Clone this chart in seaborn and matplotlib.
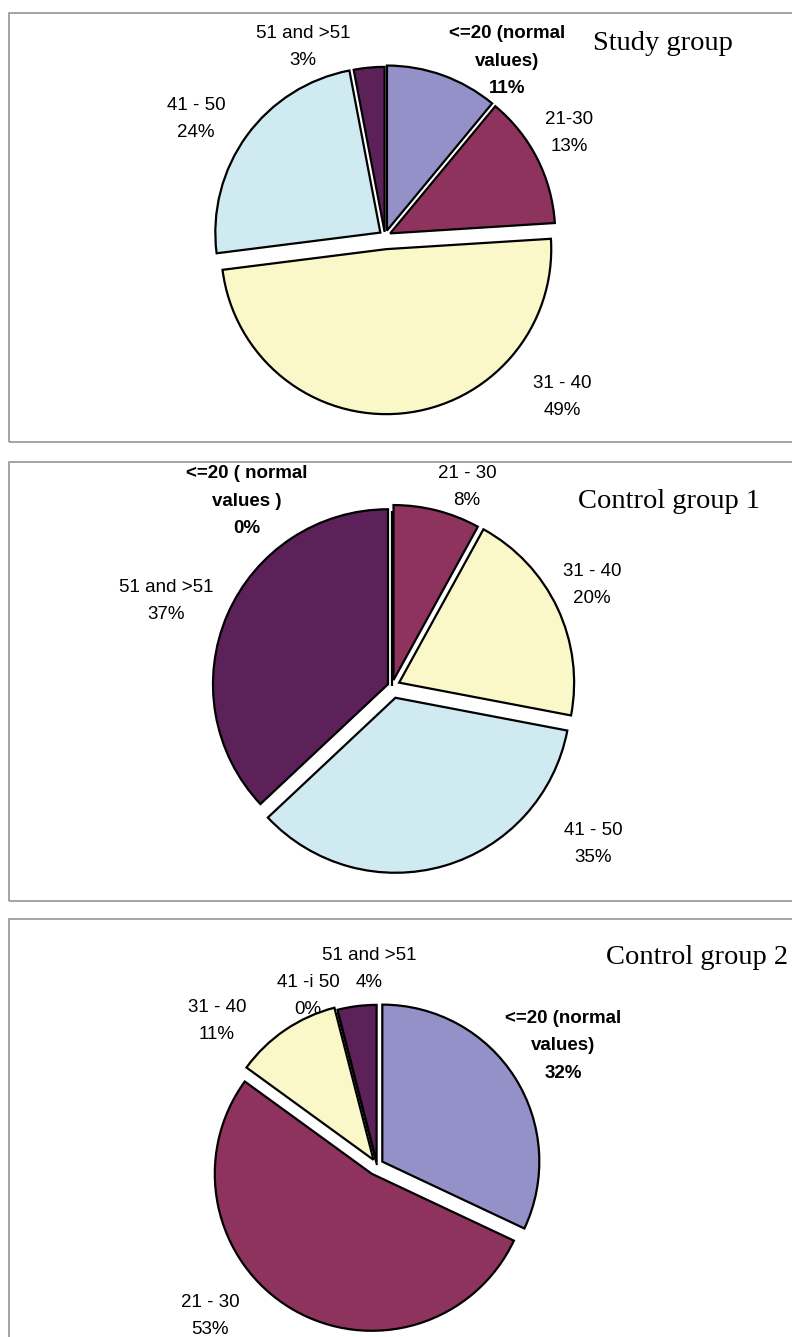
import matplotlib
matplotlib.use("Agg")
import matplotlib.pyplot as plt
from matplotlib.patches import Rectangle
import seaborn as sns

# data (percent of patients per score band)
categories = ['<=20 (normal values)', '21-30', '31-40', '41-50', '51 and >51']
study_group = [11, 13, 49, 24, 3]
control_group_1 = [0, 8, 20, 35, 37]
control_group_2 = [32, 53, 11, 0, 4]

titles = ['Study group', 'Control group 1', 'Control group 2']

# label text as printed in each chart
study_labels = ['<=20 (normal\nvalues)', '21-30', '31 - 40', '41 - 50', '51 and >51']
control1_labels = ['<=20 ( normal\nvalues )', '21 - 30', '31 - 40', '41 - 50', '51 and >51']
control2_labels = ['<=20 (normal\nvalues)', '21 - 30', '31 - 40', '41 -i 50', '51 and >51']

colors = ['#9391c7', '#8e325e', '#faf8c8', '#cfeaf0', '#5c2159']

sns.set_theme(style='white')
plt.rcParams['font.family'] = ['Liberation Sans', 'DejaVu Sans']

W, H = 792, 1337
fig = plt.figure(figsize=(W / 100, H / 100), dpi=100)
ax = fig.add_axes([0, 0, 1, 1])


def Y(y):
    # pixel row -> data y (origin at bottom)
    return H - y


# layout, in pixels
panels = [(9, 13, 442), (9, 462, 901), (9, 919, 1345)]
pie_centers = [(385, 236), (392, 686), (377, 1165)]
pie_radius = [165, 175, 157]
# explode given as a fraction of the radius
explodes = [
    [0.035, 0.035, 0.08, 0.035, 0.025],
    [0.0, 0.035, 0.045, 0.07, 0.025],
    [0.04, 0.065, 0.04, 0.0, 0.02],
]
title_pos = [(593, 43), (578, 502), (606, 958)]
label_pos = [
    [(507, 61), (569, 133), (562, 397), (196, 119), (303, 47)],
    [(247, 501), (467, 487), (592, 585), (593, 844), (166, 601)],
    [(563, 1046), (210, 1316), (217, 1021), (308, 996), (369, 969)],
]
pitch = 27.5

groups = [study_group, control_group_1, control_group_2]
labels = [study_labels, control1_labels, control2_labels]

for i, values in enumerate(groups):
    x0, y0, y1 = panels[i]
    ax.add_patch(Rectangle((x0, Y(y1)), 800 - x0, y1 - y0, fill=False,
                           edgecolor='#8c8c8c', linewidth=1.1))

    cx, cy = pie_centers[i]
    r = pie_radius[i]
    ax.pie(values, colors=colors, explode=[e * r for e in explodes[i]],
           startangle=90, counterclock=False, center=(cx, Y(cy)), radius=r,
           wedgeprops=dict(edgecolor='black', linewidth=1.6))

    tx, ty = title_pos[i]
    ax.text(tx, Y(ty), titles[i], family=['Liberation Serif', 'DejaVu Serif'],
            fontsize=20.5, ha='left', va='center', color='black')

    for j, (lab, val) in enumerate(zip(labels[i], values)):
        lx, ly = label_pos[i][j]
        lines = lab.split('\n') + [f'{val}%']
        n = len(lines)
        for k, line in enumerate(lines):
            ax.text(lx, Y(ly + (k - (n - 1) / 2) * pitch), line,
                    ha='center', va='center', fontsize=13.5, color='black',
                    fontweight='bold' if j == 0 else 'normal')

ax.set_xlim(0, W)
ax.set_ylim(0, H)
ax.set_aspect('auto')
ax.set_axis_off()

fig.savefig('out.png', dpi=100, facecolor='white')
